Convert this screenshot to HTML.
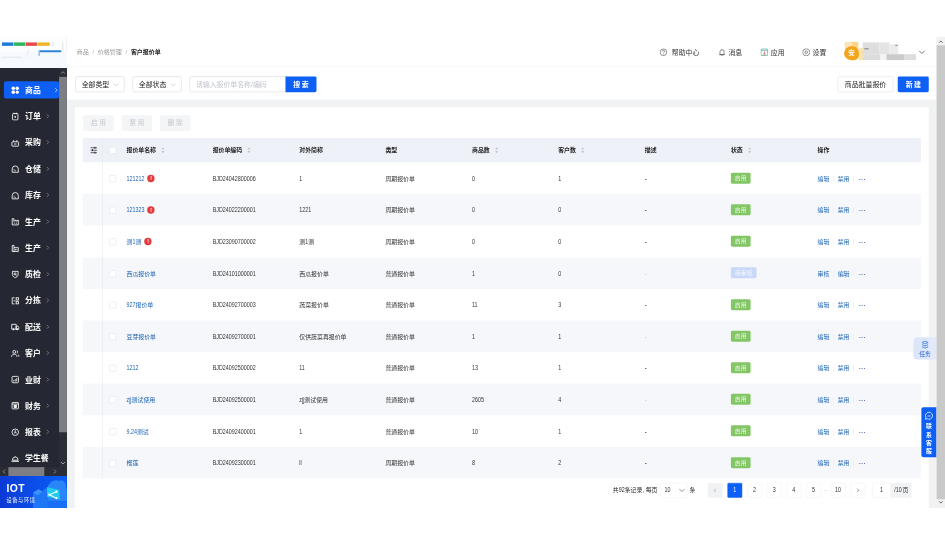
<!DOCTYPE html>
<html lang="zh-CN"><head><meta charset="utf-8"><title>客户报价单</title>
<style>
*{box-sizing:border-box}
html,body{margin:0;padding:0;background:#fff}
body{width:945px;height:545px;overflow:hidden;position:relative;font-family:"Liberation Sans","Noto Sans CJK SC",sans-serif}
#app{position:absolute;left:0;top:37px;width:1920px;height:957px;transform:scale(0.4921875);transform-origin:0 0;background:#f1f2f4;font-size:12px;color:#333;overflow:hidden}
#app div,#app span{position:absolute}
.side{left:0;top:0;width:136px;height:957px;background:#252832}
.logo{left:0;top:0;width:136px;height:63px;background:#fcfdfe;border-right:1px solid #f0f2f5}
.mi{left:8px;width:112px;height:35px;border-radius:4px;color:#fff;font-size:16px;font-weight:700}
.mi.act{background:#0d5ff5}
.mi .ic{position:absolute;left:14px;top:9.500px;width:18px;height:18px}
.mi span{left:43px;top:0;line-height:38px;white-space:nowrap}
.mi .chev{position:absolute;left:84px;top:12px;width:10px;height:12px;color:#8a8e99}
.mi.act .chev{left:101px;color:#fff}
.vsb{left:120px;top:63px;width:16px;height:811px;background:#2b2e36}
.hsb{left:0;top:874px;width:136px;height:18px;background:#2b2e36}
.iot{left:0;top:892px;width:136px;height:65px;background:#0b52f0;overflow:hidden}
.head{left:136px;top:0;width:1767px;height:61px;background:#fff;border-bottom:1px solid #eef0f3}
.bc{left:20px;top:0;line-height:60px;font-size:12.200px;color:#999;white-space:nowrap}
.bc b{color:#222;font-weight:700}
.bc i{font-style:normal;margin:0 7.500px;color:#aaa}
.hi{top:0;line-height:62px;font-size:14px;color:#333;white-space:nowrap}
.hi svg{position:absolute;left:-21px;top:23px;width:16px;height:16px}
.fbar{left:136px;top:61px;width:1767px;height:66px;background:#fff}
.sel{top:19px;width:100px;height:32px;border:1px solid #d3d6dc;border-radius:3px;background:#fff;font-size:14px;color:#222;line-height:30px;padding-left:12px}
.sel svg{position:absolute;right:10px;top:10px;width:12px;height:12px}
.btn{height:32px;line-height:32px;text-align:center;font-size:14px;border-radius:3px;white-space:nowrap}
.btn.blue{background:#0d5ff5;color:#fff;font-weight:700}
.btn.wh{background:#fff;border:1px solid #dcdfe6;color:#222;line-height:30px}
.btn.dis{background:#f4f5f7;color:#c3c6cc;height:32px;line-height:32px;font-size:13px;letter-spacing:4px;text-indent:4px}
.card{left:152px;top:143px;width:1735px;height:830px;background:#fff}
.tbl{left:16px;top:62px;width:1703px;height:690px}
.th{left:0;top:0;width:1703px;height:50px;background:#eef1f7}
.th .c{font-weight:700;color:#222;line-height:50px}
.tr{left:0;width:1703px;height:64.2px;background:#fff}
.tr.odd{background:#f6f7fa}
.c{top:0;line-height:66px;font-size:12px;color:#333;white-space:nowrap}
.c1{left:89px}.c2{left:264px}.c3{left:440px}.c4{left:615px}.c5{left:791px}.c6{left:966px}.c7{left:1142px}.c8{left:1317px}.c9{left:1493px}
.n{position:static!important;display:inline-block;font-size:14px;line-height:1;transform:scaleX(.78);transform-origin:0 50%;vertical-align:baseline}
.lk{color:#1c64b4}
.c7{color:#222;font-weight:700}
.dim{color:#bbb;font-weight:400}
.cb{left:54px;top:26px;width:14px;height:14px;border:1px solid #dde0e6;border-radius:2px;background:#fff}
.th .cb{top:18px}
.vline{left:40px;top:0;width:1px;height:692px;background:#e4e7ec}
.warn{display:inline-block;width:15px;height:15px;border-radius:50%;background:#e5393c;color:#fff;font-style:normal;font-size:10px;font-weight:700;line-height:15px;text-align:center;margin-left:6px;vertical-align:1px}
.sort{display:inline-block;width:8px;height:14px;margin-left:10px;vertical-align:-3px}
.tag{position:static!important;display:inline-block;height:22px;line-height:22px;padding:0 8px;border-radius:3px;font-size:12px;color:rgba(255,255,255,.82);vertical-align:middle;position:relative!important;top:-2px}
.tag.on{background:#82c666}
.tag.wait{background:#c8d9f7}
.sep{display:inline-block;width:1px;height:12px;background:#e2e5ea;margin:0 8px;vertical-align:-2px}
.more{font-style:normal;letter-spacing:1px;color:#3d62a0;margin-left:2px;font-weight:700}
.pg{top:0;width:30px;height:30px;line-height:28px;text-align:center;font-size:12px;color:#333;background:#fff;border:1px solid #eeeff2;border-radius:2px;white-space:nowrap}
.pg.dis{background:#f1f2f4;border-color:#f1f2f4;color:#aaa}
.pg.cur{background:#0d5ff5;border-color:#0d5ff5;color:#fff}
.pg .n{transform-origin:50% 50%;margin:0 -1px!important}
.rsb{left:1903px;top:0;width:17px;height:957px;background:#f1f1f1}
</style></head><body>
<div id="app">

<div class="head">
 <span class="bc">商品<i>/</i>价格管理<i>/</i><b>客户报价单</b></span>
 <span class="hi" style="left:1229px"><svg style="left:-25px" viewBox="0 0 16 16" fill="none" stroke="#444" stroke-width="1.2"><circle cx="8" cy="8" r="6.800"/><path d="M5.800 6.300a2.200 2.200 0 1 1 3.200 1.900c-.700.400-1 .800-1 1.500M8 11.300v1.200"/></svg>帮助中心</span>
 <span class="hi" style="left:1344px"><svg viewBox="0 0 16 16" fill="none" stroke="#444" stroke-width="1.200"><path d="M3.800 12.800V7a4.200 4.200 0 0 1 8.400 0v5.800zM2.300 12.800h11.400M6.500 15h3M8 1.200v1.500"/></svg>消息</span>
 <span class="hi" style="left:1430px"><svg viewBox="0 0 16 16" fill="none" stroke="#35a58a" stroke-width="1.300"><rect x="1.200" y="1.200" width="13.600" height="13.600" rx="1.500"/><path d="M1.200 4h13.600"/><path d="M8 6v5M5.800 9L8 11.200 10.200 9" stroke="#e0555a"/><path d="M5 13h6" stroke="#e0555a"/></svg>应用</span>
 <span class="hi" style="left:1515px"><svg viewBox="0 0 16 16" fill="none" stroke="#444" stroke-width="1.200"><path d="M8 1l1.700 1.300 2.100-.300.900 1.900 1.900.900-.300 2.100L15.600 8.600 14.300 10.300l.300 2.100-1.900.900-.900 1.900-2.100-.300L8 16.200 6.300 14.900l-2.100.300-.900-1.900-1.900-.900.300-2.100L.400 8.600 1.700 6.900l-.300-2.100 1.900-.900.900-1.900 2.100.300z" transform="translate(0 -0.600)"/><circle cx="8" cy="8" r="2.600"/></svg>设置</span>
 <div style="left:1580px;top:10px;width:14px;height:12px;background:#fbe5b8"></div>
 <div style="left:1594px;top:10px;width:14px;height:12px;background:#f9d48a"></div>
 <div style="left:1608px;top:22px;width:10px;height:25px;background:#fbe3b0"></div>
 <div style="left:1579px;top:19px;width:30px;height:28px;border-radius:14px 12px 10px 14px;background:#f3a31c;color:#fff;font-size:13px;line-height:28px;text-align:center;font-weight:700">安</div>
 <div style="left:1617px;top:11px;width:34px;height:24px;background:#dedede"></div>
 <div style="left:1651px;top:11px;width:20px;height:24px;background:#e4e4e4"></div>
 <div style="left:1671px;top:15px;width:18px;height:20px;background:#ebebeb"></div>
 <div style="left:1617px;top:35px;width:36px;height:12px;background:#dcdcdc"></div>
 <div style="left:1653px;top:35px;width:12px;height:12px;background:#f3f3f3"></div>
 <div style="left:1665px;top:35px;width:36px;height:12px;background:#cbcbcb"></div>
 <div style="left:1701px;top:35px;width:24px;height:12px;background:#dddddd"></div>
 <div style="left:1620px;top:23px;width:9px;height:2px;background:#808080"></div>
 <div style="left:1683px;top:16px;width:5px;height:2px;background:#8a8a8a"></div>
 <svg style="position:absolute;left:1730px;top:24px;width:14px;height:14px" viewBox="0 0 14 14"><path d="M2 4.500l5 5 5-5" fill="none" stroke="#444" stroke-width="1.500"/></svg>
</div>

<div class="fbar">
 <div class="sel" style="left:17px">全部类型<svg viewBox="0 0 12 12"><path d="M1.500 3.500L6 8.500l4.500-5" fill="none" stroke="#bbb" stroke-width="1.200"/></svg></div>
 <div class="sel" style="left:133px">全部状态<svg viewBox="0 0 12 12"><path d="M1.500 3.500L6 8.500l4.500-5" fill="none" stroke="#bbb" stroke-width="1.200"/></svg></div>
 <div class="sel" style="left:249px;width:198px;color:#c3c6cc;border-radius:3px 0 0 3px">请输入报价单名称/编码</div>
 <div class="btn blue" style="left:444px;top:19px;width:63px;border-radius:0 3px 3px 0;letter-spacing:3px;text-indent:3px">搜索</div>
 <div class="btn wh" style="left:1566px;top:19px;width:113px">商品批量报价</div>
 <div class="btn blue" style="left:1688px;top:19px;width:63px;letter-spacing:3px;text-indent:3px">新建</div>
</div>

<div class="card">
 <div class="btn dis" style="left:17px;top:16px;width:62px">启用</div>
 <div class="btn dis" style="left:95px;top:16px;width:62px">禁用</div>
 <div class="btn dis" style="left:173px;top:16px;width:62px">删除</div>
 <div class="tbl">
  <div class="th"><svg style="position:absolute;left:15px;top:17px;width:15px;height:16px" viewBox="0 0 15 16" fill="none" stroke="#2b2f36" stroke-width="1.500"><path d="M1 3h13M1 8h13M1 13h13"/><path d="M10 1v4M5 6v4M10 11v4" stroke-width="2"/></svg>
   <span class="cb"></span>
   <span class="c c1">报价单名称<svg class="sort" viewBox="0 0 8 14"><path d="M4 1l3 4.500H1z" fill="#c0c4cc"/><path d="M4 13L1 8.500h6z" fill="#c0c4cc"/></svg></span><span class="c c2">报价单编码<svg class="sort" viewBox="0 0 8 14"><path d="M4 1l3 4.500H1z" fill="#c0c4cc"/><path d="M4 13L1 8.500h6z" fill="#c0c4cc"/></svg></span><span class="c c3">对外简称</span><span class="c c4">类型</span><span class="c c5">商品数<svg class="sort" viewBox="0 0 8 14"><path d="M4 1l3 4.500H1z" fill="#c0c4cc"/><path d="M4 13L1 8.500h6z" fill="#c0c4cc"/></svg></span><span class="c c6">客户数<svg class="sort" viewBox="0 0 8 14"><path d="M4 1l3 4.500H1z" fill="#c0c4cc"/><path d="M4 13L1 8.500h6z" fill="#c0c4cc"/></svg></span><span class="c c7">描述</span><span class="c c8">状态<svg class="sort" viewBox="0 0 8 14"><path d="M4 1l3 4.500H1z" fill="#c0c4cc"/><path d="M4 13L1 8.500h6z" fill="#c0c4cc"/></svg></span><span class="c c9">操作</span>
  </div>
<div class="tr" style="top:50.0px"><span class="cb"></span>
<span class="c c1 lk"><span class="n" style="margin-right:-10.3px">121212</span><i class="warn">!</i></span><span class="c c2"><span class="n" style="margin-right:-24.7px">BJD24042800006</span></span><span class="c c3"><span class="n" style="margin-right:-1.7px">1</span></span><span class="c c4">周期报价单</span><span class="c c5"><span class="n" style="margin-right:-1.7px">0</span></span><span class="c c6"><span class="n" style="margin-right:-1.7px">1</span></span><span class="c c7">-</span><span class="c c8"><span class="tag on">启用</span></span><span class="c c9 lk">编辑<b class="sep"></b>禁用<b class="sep"></b><em class="more">···</em></span></div>
<div class="tr odd" style="top:114.2px"><span class="cb"></span>
<span class="c c1 lk"><span class="n" style="margin-right:-10.3px">121323</span><i class="warn">!</i></span><span class="c c2"><span class="n" style="margin-right:-24.7px">BJD24022200001</span></span><span class="c c3"><span class="n" style="margin-right:-6.8px">1221</span></span><span class="c c4">周期报价单</span><span class="c c5"><span class="n" style="margin-right:-1.7px">0</span></span><span class="c c6"><span class="n" style="margin-right:-1.7px">0</span></span><span class="c c7">-</span><span class="c c8"><span class="tag on">启用</span></span><span class="c c9 lk">编辑<b class="sep"></b>禁用<b class="sep"></b><em class="more">···</em></span></div>
<div class="tr" style="top:178.4px"><span class="cb"></span>
<span class="c c1 lk">测<span class="n" style="margin-right:-1.7px">1</span>测<i class="warn">!</i></span><span class="c c2"><span class="n" style="margin-right:-24.7px">BJD23090700002</span></span><span class="c c3">测<span class="n" style="margin-right:-1.7px">1</span>测</span><span class="c c4">周期报价单</span><span class="c c5"><span class="n" style="margin-right:-1.7px">0</span></span><span class="c c6"><span class="n" style="margin-right:-1.7px">0</span></span><span class="c c7">-</span><span class="c c8"><span class="tag on">启用</span></span><span class="c c9 lk">编辑<b class="sep"></b>禁用<b class="sep"></b><em class="more">···</em></span></div>
<div class="tr odd" style="top:242.6px"><span class="cb"></span>
<span class="c c1 lk">西瓜报价单</span><span class="c c2"><span class="n" style="margin-right:-24.7px">BJD24101000001</span></span><span class="c c3">西瓜报价单</span><span class="c c4">普通报价单</span><span class="c c5"><span class="n" style="margin-right:-1.7px">1</span></span><span class="c c6"><span class="n" style="margin-right:-1.7px">0</span></span><span class="c c7 dim">-</span><span class="c c8"><span class="tag wait">待审核</span></span><span class="c c9 lk">审核<b class="sep"></b>编辑<b class="sep"></b><em class="more">···</em></span></div>
<div class="tr" style="top:306.8px"><span class="cb"></span>
<span class="c c1 lk"><span class="n" style="margin-right:-5.1px">927</span>报价单</span><span class="c c2"><span class="n" style="margin-right:-24.7px">BJD24092700003</span></span><span class="c c3">蔬菜报价单</span><span class="c c4">普通报价单</span><span class="c c5"><span class="n" style="margin-right:-3.4px">11</span></span><span class="c c6"><span class="n" style="margin-right:-1.7px">3</span></span><span class="c c7">-</span><span class="c c8"><span class="tag on">启用</span></span><span class="c c9 lk">编辑<b class="sep"></b>禁用<b class="sep"></b><em class="more">···</em></span></div>
<div class="tr odd" style="top:371.0px"><span class="cb"></span>
<span class="c c1 lk">豆芽报价单</span><span class="c c2"><span class="n" style="margin-right:-24.7px">BJD24092700001</span></span><span class="c c3">仅供蔬菜再报价单</span><span class="c c4">普通报价单</span><span class="c c5"><span class="n" style="margin-right:-1.7px">1</span></span><span class="c c6"><span class="n" style="margin-right:-1.7px">1</span></span><span class="c c7 dim">-</span><span class="c c8"><span class="tag on">启用</span></span><span class="c c9 lk">编辑<b class="sep"></b>禁用<b class="sep"></b><em class="more">···</em></span></div>
<div class="tr" style="top:435.2px"><span class="cb"></span>
<span class="c c1 lk"><span class="n" style="margin-right:-6.8px">1212</span></span><span class="c c2"><span class="n" style="margin-right:-24.7px">BJD24092500002</span></span><span class="c c3"><span class="n" style="margin-right:-3.4px">11</span></span><span class="c c4">普通报价单</span><span class="c c5"><span class="n" style="margin-right:-3.4px">13</span></span><span class="c c6"><span class="n" style="margin-right:-1.7px">1</span></span><span class="c c7">-</span><span class="c c8"><span class="tag on">启用</span></span><span class="c c9 lk">编辑<b class="sep"></b>禁用<b class="sep"></b><em class="more">···</em></span></div>
<div class="tr odd" style="top:499.4px"><span class="cb"></span>
<span class="c c1 lk"><span class="n" style="margin-right:-2.9px">zjj</span>测试使用</span><span class="c c2"><span class="n" style="margin-right:-24.7px">BJD24092500001</span></span><span class="c c3"><span class="n" style="margin-right:-2.9px">zjj</span>测试使用</span><span class="c c4">普通报价单</span><span class="c c5"><span class="n" style="margin-right:-6.8px">2605</span></span><span class="c c6"><span class="n" style="margin-right:-1.7px">4</span></span><span class="c c7 dim">-</span><span class="c c8"><span class="tag on">启用</span></span><span class="c c9 lk">编辑<b class="sep"></b>禁用<b class="sep"></b><em class="more">···</em></span></div>
<div class="tr" style="top:563.6px"><span class="cb"></span>
<span class="c c1 lk"><span class="n" style="margin-right:-6.0px">9.24</span>测试</span><span class="c c2"><span class="n" style="margin-right:-24.7px">BJD24092400001</span></span><span class="c c3"><span class="n" style="margin-right:-1.7px">1</span></span><span class="c c4">普通报价单</span><span class="c c5"><span class="n" style="margin-right:-3.4px">10</span></span><span class="c c6"><span class="n" style="margin-right:-1.7px">1</span></span><span class="c c7">-</span><span class="c c8"><span class="tag on">启用</span></span><span class="c c9 lk">编辑<b class="sep"></b>禁用<b class="sep"></b><em class="more">···</em></span></div>
<div class="tr odd" style="top:627.8px"><span class="cb"></span>
<span class="c c1 lk">榴莲</span><span class="c c2"><span class="n" style="margin-right:-24.7px">BJD24092300001</span></span><span class="c c3"><span class="n" style="margin-right:-1.4px">ll</span></span><span class="c c4">周期报价单</span><span class="c c5"><span class="n" style="margin-right:-1.7px">8</span></span><span class="c c6"><span class="n" style="margin-right:-1.7px">2</span></span><span class="c c7">-</span><span class="c c8"><span class="tag on">启用</span></span><span class="c c9 lk">编辑<b class="sep"></b>禁用<b class="sep"></b><em class="more">···</em></span></div>
  <div class="vline"></div>
 </div>
 <div style="left:0;top:763px;width:1735px;height:40px" id="pager">
  <span style="left:1093px;top:0;line-height:30px;font-size:12px;color:#222;white-space:nowrap">共<span class="n" style="margin-right:-3.4px">92</span>条记录, 每页</span>
  <span style="left:1189px;top:0;width:56px;height:30px;background:#fff;border:1px solid #f0f0f2;border-radius:2px"></span>
  <span style="left:1198px;top:0;line-height:30px;font-size:12px;color:#333"><span class="n" style="margin-right:-3.4px">10</span></span>
  <svg style="position:absolute;left:1227px;top:9px;width:13px;height:12px" viewBox="0 0 13 12"><path d="M1.500 3.500L6.500 8.500l5-5" fill="none" stroke="#555" stroke-width="1.300"/></svg>
  <span style="left:1249px;top:0;line-height:30px;font-size:12px;color:#222">条</span>
  <span class="pg dis" style="left:1286px"><svg style="position:absolute;left:10px;top:9px;width:8px;height:10px" viewBox="0 0 8 10"><path d="M5.500 1.500L2 5l3.500 3.500" fill="none" stroke="#9a9da3" stroke-width="1.300"/></svg></span>
  <span class="pg cur" style="left:1326px"><span class="n" style="margin-right:-1.7px">1</span></span>
  <span class="pg" style="left:1366px"><span class="n" style="margin-right:-1.7px">2</span></span>
  <span class="pg" style="left:1406px"><span class="n" style="margin-right:-1.7px">3</span></span>
  <span class="pg" style="left:1446px"><span class="n" style="margin-right:-1.7px">4</span></span>
  <span class="pg" style="left:1486px"><span class="n" style="margin-right:-1.7px">5</span></span>
  <span style="left:1518px;top:0;width:16px;line-height:30px;text-align:center;color:#999;font-size:10px">···</span>
  <span class="pg" style="left:1536px"><span class="n" style="margin-right:-3.4px">10</span></span>
  <span class="pg" style="left:1576px"><svg style="position:absolute;left:10px;top:9px;width:8px;height:10px" viewBox="0 0 8 10"><path d="M2.500 1.500L6 5 2.500 8.500" fill="none" stroke="#555" stroke-width="1.300"/></svg></span>
  <span class="pg" style="left:1620px;width:38px;border-radius:2px 0 0 2px"><span class="n" style="margin-right:-1.7px">1</span></span>
  <span class="pg dis" style="left:1658px;width:42px;color:#333;border-radius:0 2px 2px 0"><span class="n" style="margin-right:-4.3px">/10</span>页</span>
 </div>
</div>

<div style="left:1856px;top:610px;width:47px;height:45px;background:#dbe6fb;border-radius:8px 0 0 8px;color:#2a66c9;font-size:12px;text-align:center;overflow:hidden">
 <div style="left:31px;top:0;width:16px;height:47px;background:#e2eaf9"></div>
 <svg style="position:absolute;left:15px;top:6px;width:17px;height:19px" viewBox="0 0 18 20" fill="none" stroke="#2a66c9" stroke-width="1.500"><path d="M9 2l6.500 3L9 8 2.500 5zM2.500 9.500L9 12.500l6.500-3M2.500 14l6.500 3 6.500-3"/></svg>
 <span style="left:0;top:26px;width:47px;line-height:18px">任务</span>
</div>
<div style="left:1872px;top:752px;width:31px;height:102px;background:#0d5ff5;border-radius:4px 0 0 4px;color:#fff;font-size:12px;font-weight:700;text-align:center">
 <svg style="position:absolute;left:6px;top:8px;width:19px;height:19px" viewBox="0 0 16 16" fill="none" stroke="#fff" stroke-width="1.300"><path d="M8 2a6 6 0 1 1-3 11.200L2 14l.800-3A6 6 0 0 1 8 2z"/><path d="M5.500 8.500h5"/></svg>
 <span style="left:0;top:31px;width:31px;line-height:17px">联<br>系<br>客<br>服</span>
</div>

<div class="side">
 <div class="logo">
  <div style="left:0;top:30px;width:136px;height:33px;background:#f6f9fd"></div>
  <div style="left:4px;top:11px;width:23px;height:7px;background:#1f7bd6"></div>
  <div style="left:28px;top:11px;width:23px;height:7px;background:#2db55d"></div>
  <div style="left:52px;top:11px;width:23px;height:7px;background:#e5484d"></div>
  <div style="left:76px;top:11px;width:25px;height:7px;background:#f0b429"></div>
  <div style="left:79px;top:27px;width:46px;height:4px;background:#2e86d6;border-radius:2px"></div>
  <div style="left:78px;top:27px;width:3px;height:12px;background:#8fbbe8;border-radius:2px"></div>
  <div style="left:5px;top:40px;width:38px;height:2px;background:#e3e6ea"></div>
  <div style="left:55px;top:24px;width:2px;height:18px;background:#e9ecef;transform:rotate(12deg)"></div>
  <div style="left:106px;top:10px;width:4px;height:10px;background:#eef0f2"></div>
  <div style="left:126px;top:12px;width:3px;height:14px;background:#e6e9ec"></div>
 </div>
<div class="mi act" style="top:89.5px"><svg class="ic" viewBox="0 0 18 18" fill="none" stroke="#fff" stroke-width="1.7"><circle cx="5" cy="5" r="3.600" fill="#fff" stroke="none"/><circle cx="13" cy="5" r="3.600" fill="#fff" stroke="none"/><circle cx="5" cy="13" r="3.600" fill="#fff" stroke="none"/><rect x="10" y="10" width="6.200" height="6.200" rx="1.500" fill="#fff" stroke="none" transform="rotate(45 13.1 13.1)"/></svg><span>商品</span><svg class="chev" viewBox="0 0 10 12"><path d="M3 2l4 4-4 4" fill="none" stroke="currentColor" stroke-width="1.4"/></svg></div>
<div class="mi" style="top:142.9px"><svg class="ic" viewBox="0 0 18 18" fill="none" stroke="#fff" stroke-width="1.7"><rect x="3.500" y="3.500" width="11" height="13" rx="1.800"/><path d="M6.500 1.800v3.200M11.500 1.800v3.200M9 8.500v4M7.300 9.200L9 10.800l1.700-1.600"/></svg><span>订单</span><svg class="chev" viewBox="0 0 10 12"><path d="M3 2l4 4-4 4" fill="none" stroke="currentColor" stroke-width="1.4"/></svg></div>
<div class="mi" style="top:196.4px"><svg class="ic" viewBox="0 0 18 18" fill="none" stroke="#fff" stroke-width="1.7"><rect x="2.200" y="7" width="13.600" height="8.800" rx="1.200"/><path d="M5.800 7V3.500M12.200 7V3.500M6.500 11.400h5"/></svg><span>采购</span><svg class="chev" viewBox="0 0 10 12"><path d="M3 2l4 4-4 4" fill="none" stroke="currentColor" stroke-width="1.4"/></svg></div>
<div class="mi" style="top:249.9px"><svg class="ic" viewBox="0 0 18 18" fill="none" stroke="#fff" stroke-width="1.7"><path d="M2.800 15.800V9.200a6.200 6.200 0 0 1 12.400 0v6.600z"/><path d="M6 12.800h1.600M9 12.800h1.600M6 10.200h1.600"/></svg><span>仓储</span><svg class="chev" viewBox="0 0 10 12"><path d="M3 2l4 4-4 4" fill="none" stroke="currentColor" stroke-width="1.4"/></svg></div>
<div class="mi" style="top:303.3px"><svg class="ic" viewBox="0 0 18 18" fill="none" stroke="#fff" stroke-width="1.7"><path d="M2.800 15.800V9.200a6.200 6.200 0 0 1 12.400 0v6.600z"/><path d="M6 12.800h1.600M9 12.800h1.600M6 10.200h1.600"/></svg><span>库存</span><svg class="chev" viewBox="0 0 10 12"><path d="M3 2l4 4-4 4" fill="none" stroke="currentColor" stroke-width="1.4"/></svg></div>
<div class="mi" style="top:356.8px"><svg class="ic" viewBox="0 0 18 18" fill="none" stroke="#fff" stroke-width="1.7"><path d="M2.800 15.800V3.200h3.400v5.300l4.300-2.700v2.700l4.700-2.700v10z"/><path d="M6 12.200h2.200M10 12.200h2.200"/></svg><span>生产</span><svg class="chev" viewBox="0 0 10 12"><path d="M3 2l4 4-4 4" fill="none" stroke="currentColor" stroke-width="1.4"/></svg></div>
<div class="mi" style="top:410.2px"><svg class="ic" viewBox="0 0 18 18" fill="none" stroke="#fff" stroke-width="1.7"><path d="M2.800 15.800V3.500h3.600v12.300M6.400 8h8.800v7.800H2.800"/><path d="M9.500 10.800v2.600M12.200 10.800v2.600"/></svg><span>生产</span><svg class="chev" viewBox="0 0 10 12"><path d="M3 2l4 4-4 4" fill="none" stroke="currentColor" stroke-width="1.4"/></svg></div>
<div class="mi" style="top:463.7px"><svg class="ic" viewBox="0 0 18 18" fill="none" stroke="#fff" stroke-width="1.7"><path d="M3.200 3.200h11.600v6.300c0 3.600-3.200 5.600-5.800 6.600-2.600-1-5.800-3-5.800-6.600z"/><circle cx="8.600" cy="8.400" r="2.100"/><path d="M10.200 10l1.900 1.900"/></svg><span>质检</span><svg class="chev" viewBox="0 0 10 12"><path d="M3 2l4 4-4 4" fill="none" stroke="currentColor" stroke-width="1.4"/></svg></div>
<div class="mi" style="top:517.1px"><svg class="ic" viewBox="0 0 18 18" fill="none" stroke="#fff" stroke-width="1.7"><path d="M7.500 2.800H2.800v12.400h4.700M5.500 9h4"/><rect x="10.800" y="2.800" width="4.600" height="4.600"/><rect x="10.800" y="10.600" width="4.600" height="4.600"/></svg><span>分拣</span><svg class="chev" viewBox="0 0 10 12"><path d="M3 2l4 4-4 4" fill="none" stroke="currentColor" stroke-width="1.4"/></svg></div>
<div class="mi" style="top:570.5px"><svg class="ic" viewBox="0 0 18 18" fill="none" stroke="#fff" stroke-width="1.7"><path d="M1.800 3.800h9v9.700h-9zM10.800 7.300h3.400l2 2.700v3.500h-5.400z"/><circle cx="5.300" cy="14" r="1.200" fill="#fff"/><circle cx="13" cy="14" r="1.200" fill="#fff"/></svg><span>配送</span><svg class="chev" viewBox="0 0 10 12"><path d="M3 2l4 4-4 4" fill="none" stroke="currentColor" stroke-width="1.4"/></svg></div>
<div class="mi" style="top:624.0px"><svg class="ic" viewBox="0 0 18 18" fill="none" stroke="#fff" stroke-width="1.7"><circle cx="7" cy="5.800" r="3"/><path d="M1.500 15.800c0-3.600 2.400-5.200 5.500-5.200s5.500 1.600 5.500 5.200M12 3.200a2.700 2.700 0 0 1 0 5.200M14.200 11c1.700.700 2.400 2.300 2.400 4.800"/></svg><span>客户</span><svg class="chev" viewBox="0 0 10 12"><path d="M3 2l4 4-4 4" fill="none" stroke="currentColor" stroke-width="1.4"/></svg></div>
<div class="mi" style="top:677.5px"><svg class="ic" viewBox="0 0 18 18" fill="none" stroke="#fff" stroke-width="1.7"><rect x="2.500" y="2.500" width="13" height="13" rx="2"/><path d="M6 12.800V10M9 12.800V8.200M12 12.800V6"/></svg><span>业财</span><svg class="chev" viewBox="0 0 10 12"><path d="M3 2l4 4-4 4" fill="none" stroke="currentColor" stroke-width="1.4"/></svg></div>
<div class="mi" style="top:730.9px"><svg class="ic" viewBox="0 0 18 18" fill="none" stroke="#fff" stroke-width="1.7"><rect x="2.500" y="2.500" width="13" height="13" rx="1.200"/><path d="M2.500 5.800h13"/><rect x="6.800" y="8.200" width="4.400" height="4.400" fill="#fff"/></svg><span>财务</span><svg class="chev" viewBox="0 0 10 12"><path d="M3 2l4 4-4 4" fill="none" stroke="currentColor" stroke-width="1.4"/></svg></div>
<div class="mi" style="top:784.4px"><svg class="ic" viewBox="0 0 18 18" fill="none" stroke="#fff" stroke-width="1.7"><circle cx="9" cy="9" r="6.600"/><path d="M9 4.800V9.500l3.200 1.400M9 9.500l-2.500 1.500"/></svg><span>报表</span><svg class="chev" viewBox="0 0 10 12"><path d="M3 2l4 4-4 4" fill="none" stroke="currentColor" stroke-width="1.4"/></svg></div>
<div class="mi" style="top:837.8px"><svg class="ic" viewBox="0 0 18 18" fill="none" stroke="#fff" stroke-width="1.7"><path d="M1.500 15h15" stroke-width="2"/><path d="M3.200 12.800a5.800 6.500 0 0 1 11.600 0z"/><path d="M9 6V4.600"/></svg><span>学生餐</span></div>
 <div class="vsb">
  <svg style="position:absolute;left:3px;top:5px;width:10px;height:8px" viewBox="0 0 10 8"><path d="M1 6.500l4-4 4 4" fill="none" stroke="#9a9a9a" stroke-width="1.800"/></svg>
  <div style="left:0;top:18px;width:16px;height:722px;background:#7d7e83"></div>
  <svg style="position:absolute;left:3px;top:799px;width:10px;height:8px" viewBox="0 0 10 8"><path d="M1 1.500l4 4 4-4" fill="none" stroke="#aaa" stroke-width="1.800"/></svg>
 </div>
 <div class="hsb">
  <svg style="position:absolute;left:4px;top:4px;width:8px;height:10px" viewBox="0 0 8 10"><path d="M6.500 1l-4 4 4 4" fill="none" stroke="#8a8a8a" stroke-width="2"/></svg>
  <div style="left:17px;top:0;width:73px;height:18px;background:#7d7e83"></div>
  <svg style="position:absolute;left:108px;top:4px;width:8px;height:10px" viewBox="0 0 8 10"><path d="M1.500 1l4 4-4 4" fill="none" stroke="#8a8a8a" stroke-width="2"/></svg>
 </div>
 <div class="iot">
  <svg style="position:absolute;left:0;top:0;width:136px;height:66px" viewBox="0 0 136 66">
   <defs><linearGradient id="ig" x1="0" y1="0" x2="1" y2="0"><stop offset="0" stop-color="#0b3ad6"/><stop offset=".55" stop-color="#0b4fea"/><stop offset="1" stop-color="#0a5df6"/></linearGradient></defs>
   <rect width="136" height="66" fill="url(#ig)"/>
   <path d="M89 52c-4-9 0-21 7-24 0-13 13-24 25-18 7-3 14 4 13 14 3 4 3 14 2 28z" fill="#2a86f8"/>
   <path d="M95 50h41v16H95z" fill="#176ff5"/>
   <path d="M67 66V34l11-7 9 5v-4l6-3 4 3v38z" fill="#1c76f6"/>
   <path d="M67 34l11-7 9 5-11 7z" fill="#3a92fa"/>
   <path d="M95 22.500l25.500 6 1.200 19.300-26-5.500z" fill="#20cdf0"/>
   <path d="M114.600 31.700l-14.300 6.300 14.300 7.100" fill="none" stroke="#e9fbff" stroke-width="2.200"/>
   <circle cx="114.600" cy="31.700" r="2.300" fill="#fff"/><circle cx="100.300" cy="38" r="2.300" fill="#fff"/><circle cx="114.600" cy="45.100" r="2.300" fill="#fff"/>
  </svg>
  <span style="left:13px;top:14px;font-size:21px;font-weight:700;color:#fff;line-height:24px;letter-spacing:1px">IOT</span>
  <span style="left:13px;top:41px;font-size:10.500px;color:#fff;line-height:16px;white-space:nowrap;letter-spacing:1.400px">设备与环境</span>
 </div>
</div>

<div class="rsb">
 <svg style="position:absolute;left:4px;top:6px;width:9px;height:7px" viewBox="0 0 9 7"><path d="M1 5.500l3.500-3.500L8 5.500" fill="none" stroke="#505050" stroke-width="1.800"/></svg>
 <div style="left:0;top:17px;width:17px;height:922px;background:#c9c9c9"></div>
 <svg style="position:absolute;left:4px;top:942px;width:9px;height:7px" viewBox="0 0 9 7"><path d="M1 1.500l3.500 3.500L8 1.500" fill="none" stroke="#505050" stroke-width="1.800"/></svg>
</div>

</div>
</body></html>
